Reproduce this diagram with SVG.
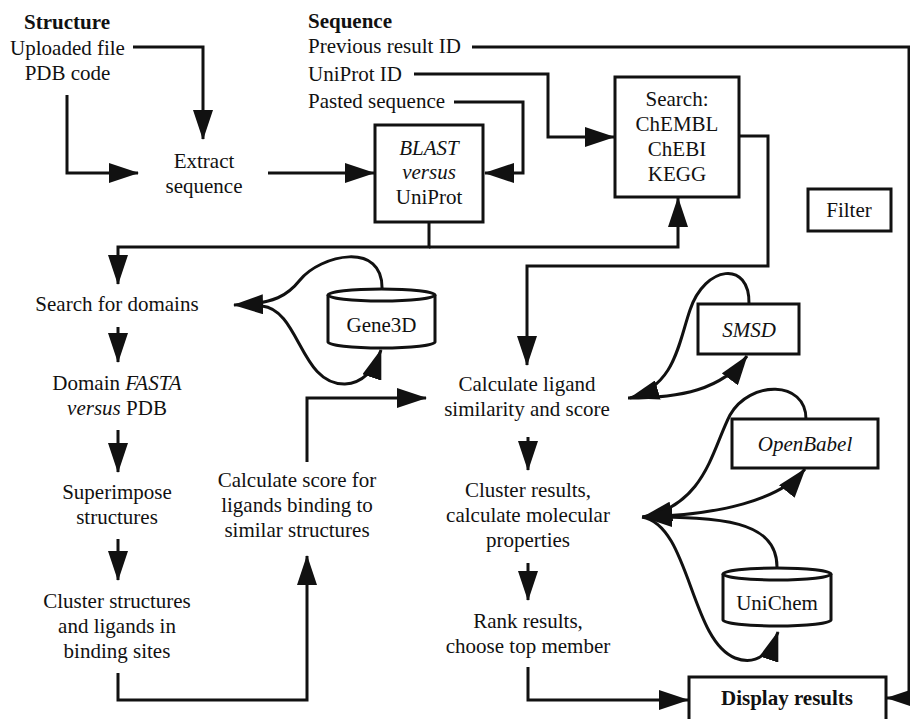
<svg xmlns="http://www.w3.org/2000/svg" width="910" height="719" viewBox="0 0 910 719" font-family="'Liberation Serif', 'Times New Roman', Times, serif">
<style>
text{font-size:21px;fill:#111}
.c{text-anchor:middle}
.b{font-weight:bold}
.i{font-style:italic}
.box{fill:#fff;stroke:#111;stroke-width:3}
.ln{fill:none;stroke:#111;stroke-width:3;stroke-linejoin:miter}
.cv{fill:none;stroke:#111;stroke-width:3}
</style>
<defs>
<marker id="ah" markerUnits="userSpaceOnUse" markerWidth="30" markerHeight="20" refX="29" refY="10" orient="auto">
<path d="M0,0 L30,10 L0,20 Z" fill="#111"/>
</marker>
</defs>
<rect width="910" height="719" fill="#fff"/>

<g id="connectors">
<path class="ln" d="M133,47 H203 V139" marker-end="url(#ah)"/>
<path class="ln" d="M67,95 V173 H138" marker-end="url(#ah)"/>
<path class="ln" d="M268,173 H374" marker-end="url(#ah)"/>
<path class="ln" d="M454,102 H523 V173 H485" marker-end="url(#ah)"/>
<path class="ln" d="M414,74 H548 V137 H614" marker-end="url(#ah)"/>
<path class="ln" d="M472,47 H909 V698 H887" marker-end="url(#ah)"/>
<path class="ln" d="M429,222 V247 H118 V284" marker-end="url(#ah)"/>
<path class="ln" d="M429,247 H678 V198" marker-end="url(#ah)"/>
<path class="ln" d="M739,136 H768 V266 H527 V365" marker-end="url(#ah)"/>
<path class="ln" d="M118,327 V362" marker-end="url(#ah)"/>
<path class="ln" d="M118,430 V472" marker-end="url(#ah)"/>
<path class="ln" d="M118,539 V580" marker-end="url(#ah)"/>
<path class="ln" d="M118,673 V700 H307 V556" marker-end="url(#ah)"/>
<path class="ln" d="M307,462 V398 H426" marker-end="url(#ah)"/>
<path class="ln" d="M528,437 V470" marker-end="url(#ah)"/>
<path class="ln" d="M528,563 V600" marker-end="url(#ah)"/>
<path class="ln" d="M528,667 V700 H688" marker-end="url(#ah)"/>
<path class="cv" d="M382,290 C384,240 320,255 300,280 C288,295 275,304 234,305" marker-end="url(#ah)"/>
<path class="cv" d="M262,306 C300,310 300,385 345,384 C365,383 375,368 381,350" marker-end="url(#ah)"/>
<path class="cv" d="M749,304 C750,260 705,265 690,310 C678,345 675,385 630,398" marker-end="url(#ah)"/>
<path class="cv" d="M628,398 C680,398 722,390 747,356" marker-end="url(#ah)"/>
<path class="cv" d="M806,419 C806,380 750,380 730,415 C712,450 705,505 643,517" marker-end="url(#ah)"/>
<path class="cv" d="M642,517 C720,515 780,500 805,469" marker-end="url(#ah)"/>
<path class="cv" d="M777,567 C777,520 720,517 643,517" marker-end="url(#ah)"/>
<path class="cv" d="M642,517 C690,525 690,640 735,658 C758,667 772,650 778,632" marker-end="url(#ah)"/>
</g>

<g id="structure">
<text class="c b" x="67" y="29">Structure</text>
<text class="c" x="67.5" y="55">Uploaded file</text>
<text class="c" x="67.5" y="80">PDB code</text>
</g>
<g id="sequence">
<text class="b" x="308" y="28">Sequence</text>
<text x="308" y="53">Previous result ID</text>
<text x="308" y="81">UniProt ID</text>
<text x="308" y="108">Pasted sequence</text>
</g>
<g id="extract">
<text class="c" x="204" y="168">Extract</text>
<text class="c" x="204" y="193">sequence</text>
</g>
<g id="blast">
<rect class="box" x="375" y="125" width="108" height="97"/>
<text class="c i" x="429" y="155">BLAST</text>
<text class="c i" x="429" y="179">versus</text>
<text class="c" x="429" y="204">UniProt</text>
</g>
<g id="search">
<rect class="box" x="615" y="77" width="124" height="120"/>
<text class="c" x="677" y="106">Search:</text>
<text class="c" x="677" y="131">ChEMBL</text>
<text class="c" x="677" y="156">ChEBI</text>
<text class="c" x="677" y="181">KEGG</text>
</g>
<g id="filter">
<rect class="box" x="808" y="189" width="83" height="42"/>
<text class="c" x="849" y="217">Filter</text>
</g>
<g id="domains">
<text class="c" x="117" y="311">Search for domains</text>
</g>
<g id="gene3d">
<path class="box" d="M328,295 V342 A53.5,6 0 0 0 435,342 V295 A53.5,6 0 0 0 328,295 Z"/>
<path class="cv" d="M328,295 A53.5,6 0 0 0 435,295"/>
<text class="c" x="381.5" y="332">Gene3D</text>
</g>
<g id="fasta">
<text class="c" x="117" y="390">Domain <tspan class="i">FASTA</tspan></text>
<text class="c" x="117" y="415"><tspan class="i">versus</tspan> PDB</text>
</g>
<g id="superimpose">
<text class="c" x="117" y="499">Superimpose</text>
<text class="c" x="117" y="524">structures</text>
</g>
<g id="cluster-structures">
<text class="c" x="117" y="608">Cluster structures</text>
<text class="c" x="117" y="633">and ligands in</text>
<text class="c" x="117" y="658">binding sites</text>
</g>
<g id="calc-score">
<text class="c" x="297" y="487">Calculate score for</text>
<text class="c" x="297" y="512">ligands binding to</text>
<text class="c" x="297" y="537">similar structures</text>
</g>
<g id="calc-ligand">
<text class="c" x="527" y="391">Calculate ligand</text>
<text class="c" x="527" y="416">similarity and score</text>
</g>
<g id="smsd">
<rect class="box" x="698" y="304" width="101" height="50"/>
<text class="c i" x="749" y="337">SMSD</text>
</g>
<g id="openbabel">
<rect class="box" x="732" y="419" width="146" height="49"/>
<text class="c i" x="805" y="451">OpenBabel</text>
</g>
<g id="cluster-results">
<text class="c" x="528" y="497">Cluster results,</text>
<text class="c" x="528" y="522">calculate molecular</text>
<text class="c" x="528" y="547">properties</text>
</g>
<g id="unichem">
<path class="box" d="M723,574 V620 A54,6 0 0 0 831,620 V574 A54,6 0 0 0 723,574 Z"/>
<path class="cv" d="M723,574 A54,6 0 0 0 831,574"/>
<text class="c" x="777" y="610">UniChem</text>
</g>
<g id="rank">
<text class="c" x="528" y="628">Rank results,</text>
<text class="c" x="528" y="653">choose top member</text>
</g>
<g id="display">
<rect class="box" x="689" y="677" width="197" height="50"/>
<text class="c b" x="787" y="705">Display results</text>
</g>
</svg>
